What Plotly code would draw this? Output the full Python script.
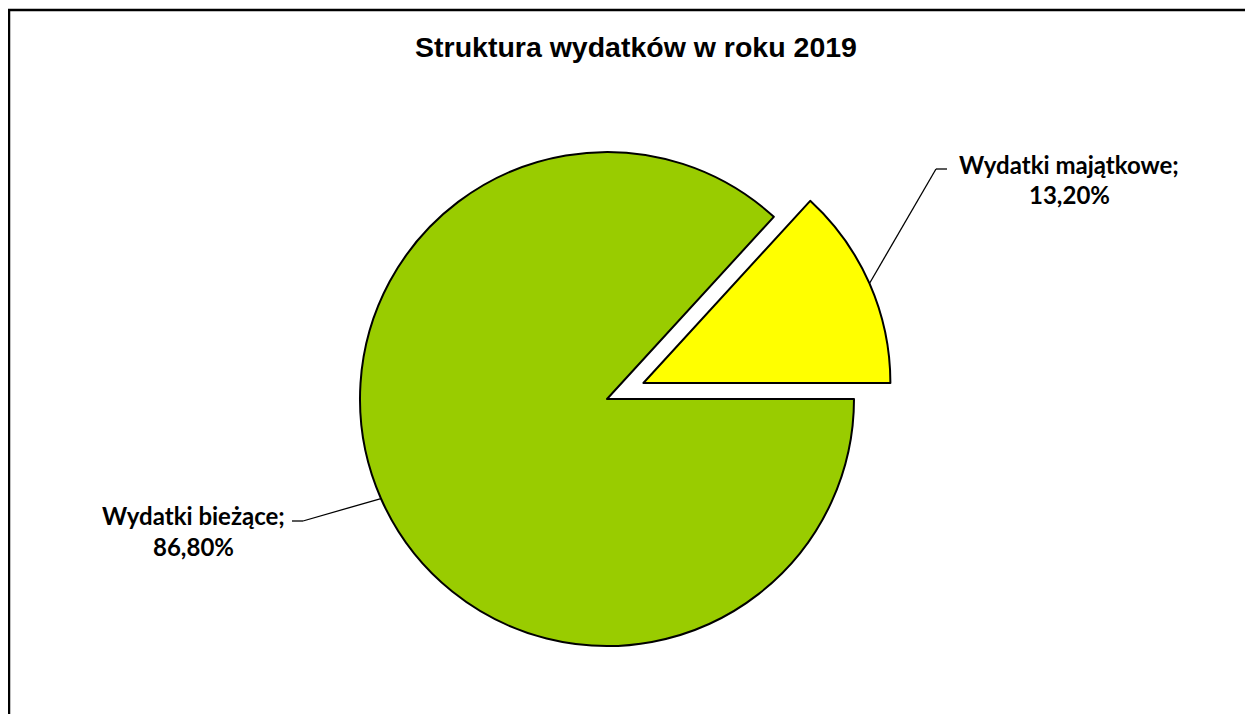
import math
import plotly.graph_objects as go

# data
labels = ["Wydatki majątkowe", "Wydatki bieżące"]
values = [13.20, 86.80]
colors = ["#FFFF00", "#99CC00"]
pulls = [0.161, 0.0]
value_text = ["13,20%", "86,80%"]

OFF = 8  # page body margin: screen px -> figure px
W, H = 1253 - 2 * OFF, 722 - 2 * OFF

# pie placement (screen pixels)
cx_s, cy_s, r_px = 607, 399, 247
cx_px, cy_px = cx_s - OFF, cy_s - OFF
box = 2 * r_px * (1 + max(pulls))

dom_x = [(cx_px - box / 2 - 20) / W, (cx_px + box / 2 + 20) / W]
dom_y = [(H - cy_px - box / 2) / H, (H - cy_px + box / 2) / H]


def px(x):
    return (x - OFF) / W


def py(y):
    return 1 - (y - OFF) / H


total = sum(values)
first_frac = values[0] / total

fig = go.Figure()
fig.add_trace(
    go.Pie(
        labels=labels,
        values=values,
        sort=False,
        direction="clockwise",
        rotation=90 - 360 * first_frac,
        pull=pulls,
        marker=dict(colors=colors, line=dict(color="black", width=2)),
        textinfo="none",
        hoverinfo="label+percent",
        showlegend=False,
        domain=dict(x=dom_x, y=dom_y),
    )
)

# label elbow points and text anchors (screen pixels)
elbows = [(936, 169, 947), (303, 521, 292)]
text_pos = [(1069, 164, 194), (193, 515, 546)]
label_font = dict(family="Lato, Carlito, sans-serif", size=24, color="black")

start = 0.0  # east, counterclockwise
for i, v in enumerate(values):
    frac = v / total
    mid = math.radians(start * 360 + frac * 180)
    start += frac
    rr = r_px * (1 + pulls[i])
    sx = cx_s + rr * math.cos(mid)
    sy = cy_s - rr * math.sin(mid)
    ex, ey, hx = elbows[i]
    fig.add_shape(type="line", xref="paper", yref="paper",
                  x0=px(sx), y0=py(sy), x1=px(ex), y1=py(ey),
                  line=dict(color="black", width=1.3))
    fig.add_shape(type="line", xref="paper", yref="paper",
                  x0=px(ex), y0=py(ey), x1=px(hx), y1=py(ey),
                  line=dict(color="black", width=1.3))
    tx, ty1, ty2 = text_pos[i]
    for txt, ty in [(labels[i] + ";", ty1), (value_text[i], ty2)]:
        fig.add_annotation(
            x=px(tx), y=py(ty), xref="paper", yref="paper",
            text=f"<b>{txt}</b>",
            showarrow=False, xanchor="center", yanchor="middle",
            font=label_font,
        )

# outer frame: only left and top edges are visible in the picture
frame = dict(color="black", width=2.5)
fig.add_shape(type="line", xref="paper", yref="paper",
              x0=1 / W, y0=0, x1=1 / W, y1=1 - 2 / H, line=frame)
fig.add_shape(type="line", xref="paper", yref="paper",
              x0=0, y0=1 - 2 / H, x1=1, y1=1 - 2 / H, line=frame)

fig.update_layout(
    width=W,
    height=H,
    margin=dict(l=0, r=0, t=0, b=0),
    paper_bgcolor="white",
    plot_bgcolor="white",
    title=dict(
        text="<b>Struktura wydatków w roku 2019</b>",
        x=px(636), y=py(47), xanchor="center", yanchor="middle",
        font=dict(family="Liberation Sans, Arial, sans-serif", size=28.5, color="black"),
    ),
)

fig.write_html("out.html", post_script="document.body.style.overflow='hidden';")
